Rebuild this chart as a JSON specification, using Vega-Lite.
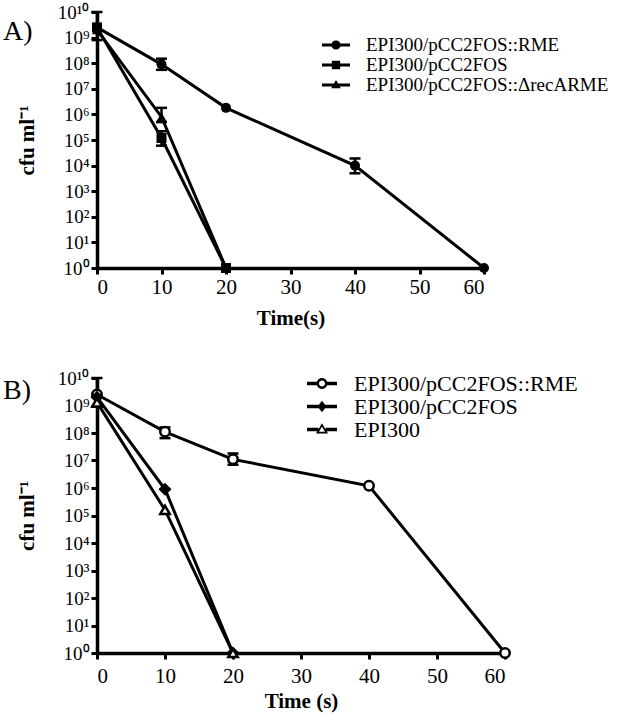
{
  "$schema": "https://vega.github.io/schema/vega-lite/v6.json",
  "background": "white",
  "padding": {"left": 3, "top": 3, "right": 5, "bottom": 5},
  "spacing": 41,
  "config": {
    "view": {"stroke": null},
    "font": "Liberation Serif",
    "axis": {
      "domainColor": "black", "domainWidth": 3.5, "tickColor": "black", "tickWidth": 3, "tickSize": 6,
      "labelColor": "black", "titleColor": "black", "labelFont": "Liberation Serif", "titleFont": "Liberation Serif",
      "grid": false, "titleFontWeight": "bold"
    }
  },
  "datasets": {
    "a": [
      {"strain": "EPI300/pCC2FOS::RME", "t": 0, "cfu": 2500000000, "lo": 800000000, "hi": 10000000000},
      {"strain": "EPI300/pCC2FOS::RME", "t": 10, "cfu": 90000000, "lo": 55000000, "hi": 150000000},
      {"strain": "EPI300/pCC2FOS::RME", "t": 20, "cfu": 1800000, "lo": null, "hi": null},
      {"strain": "EPI300/pCC2FOS::RME", "t": 40, "cfu": 10000, "lo": 5000, "hi": 19000},
      {"strain": "EPI300/pCC2FOS::RME", "t": 60, "cfu": 1, "lo": null, "hi": null},
      {"strain": "EPI300/pCC2FOS", "t": 0, "cfu": 2500000000, "lo": null, "hi": null},
      {"strain": "EPI300/pCC2FOS", "t": 10, "cfu": 120000, "lo": 60000, "hi": 220000},
      {"strain": "EPI300/pCC2FOS", "t": 20, "cfu": 1, "lo": null, "hi": null},
      {"strain": "EPI300/pCC2FOS::ΔrecARME", "t": 0, "cfu": 2000000000, "lo": null, "hi": null},
      {"strain": "EPI300/pCC2FOS::ΔrecARME", "t": 10, "cfu": 800000, "lo": 500000, "hi": 1800000},
      {"strain": "EPI300/pCC2FOS::ΔrecARME", "t": 20, "cfu": 1, "lo": null, "hi": null}
    ],
    "b": [
      {"strain": "EPI300/pCC2FOS::RME", "t": 0, "cfu": 2500000000, "lo": 900000000, "hi": 10000000000},
      {"strain": "EPI300/pCC2FOS::RME", "t": 10, "cfu": 110000000, "lo": 65000000, "hi": 160000000},
      {"strain": "EPI300/pCC2FOS::RME", "t": 20, "cfu": 11000000, "lo": 7000000, "hi": 18000000},
      {"strain": "EPI300/pCC2FOS::RME", "t": 40, "cfu": 1200000, "lo": null, "hi": null},
      {"strain": "EPI300/pCC2FOS::RME", "t": 60, "cfu": 1, "lo": null, "hi": null},
      {"strain": "EPI300/pCC2FOS", "t": 0, "cfu": 2000000000, "lo": null, "hi": null},
      {"strain": "EPI300/pCC2FOS", "t": 10, "cfu": 900000, "lo": null, "hi": null},
      {"strain": "EPI300/pCC2FOS", "t": 20, "cfu": 1, "lo": null, "hi": null},
      {"strain": "EPI300", "t": 0, "cfu": 1300000000, "lo": null, "hi": null},
      {"strain": "EPI300", "t": 10, "cfu": 160000, "lo": null, "hi": null},
      {"strain": "EPI300", "t": 20, "cfu": 1, "lo": null, "hi": null}
    ]
  },
  "vconcat": [
    {
      "data": {"name": "a"},
      "width": 387,
      "height": 256,
      "title": {"text": "A)", "anchor": "start", "frame": "group", "orient": "top", "offset": -43, "dx": -94, "fontSize": 28, "fontWeight": "normal", "font": "Liberation Serif", "color": "black"},
      "encoding": {
        "x": {"field": "t", "type": "quantitative", "scale": {"domain": [0, 60], "nice": false, "zero": false},
          "axis": {"values": [0, 10, 20, 30, 40, 50, 60], "title": "Time(s)", "labelFontSize": 21, "titleFontSize": 21, "labelPadding": 2, "titlePadding": 10}},
        "y": {"field": "cfu", "type": "quantitative", "scale": {"type": "log", "domain": [1, 10000000000], "nice": false},
          "axis": {"values": [1, 10, 100, 1000, 10000, 100000, 1000000, 10000000, 100000000, 1000000000, 10000000000],
            "labelExpr": "'10' + ['⁰','¹','²','³','⁴','⁵','⁶','⁷','⁸','⁹','¹⁰'][round(log(datum.value)/LN10)]",
            "title": "cfu ml⁻¹", "labelFontSize": 19, "titleFontSize": 21, "titlePadding": 20, "labelPadding": 2}}
      },
      "layer": [
        {"mark": {"type": "line", "color": "black", "strokeWidth": 3}, "encoding": {"detail": {"field": "strain"}}},
        {"transform": [{"filter": {"field": "lo", "valid": true}}], "mark": {"type": "rule", "color": "black", "strokeWidth": 2.5},
          "encoding": {"y": {"field": "lo", "type": "quantitative"}, "y2": {"field": "hi"}}},
        {"transform": [{"filter": {"field": "lo", "valid": true}}], "mark": {"type": "tick", "color": "black", "orient": "horizontal", "size": 11, "thickness": 2.5, "opacity": 1},
          "encoding": {"y": {"field": "lo", "type": "quantitative"}}},
        {"transform": [{"filter": {"field": "hi", "valid": true}}], "mark": {"type": "tick", "color": "black", "orient": "horizontal", "size": 11, "thickness": 2.5, "opacity": 1},
          "encoding": {"y": {"field": "hi", "type": "quantitative"}}},
        {"mark": {"type": "point", "filled": true, "color": "black", "size": 100, "opacity": 1},
          "encoding": {"shape": {"field": "strain", "type": "nominal",
            "scale": {"domain": ["EPI300/pCC2FOS::RME", "EPI300/pCC2FOS", "EPI300/pCC2FOS::ΔrecARME"], "range": ["circle", "square", "triangle-up"]}, "legend": null}}},
        {"transform": [{"filter": "datum.t < 0"}], "mark": {"type": "point", "filled": true, "color": "black", "opacity": 1},
          "encoding": {"shape": {"field": "strain", "type": "nominal",
            "scale": {"domain": ["EPI300/pCC2FOS::RME", "EPI300/pCC2FOS", "EPI300/pCC2FOS::ΔrecARME"],
              "range": [
                "M-1,-0.11H1V0.11H-1Z M-0.33,0A0.33,0.33 0 1,1 0.33,0A0.33,0.33 0 1,1 -0.33,0Z",
                "M-1,-0.11H1V0.11H-1Z M-0.3,-0.3H0.3V0.3H-0.3Z",
                "M-1,-0.11H1V0.11H-1Z M0,-0.36L0.34,0.24H-0.34Z"
              ]},
            "legend": {"orient": "none", "legendX": 225, "legendY": 23, "title": null, "labelFontSize": 19, "labelFont": "Liberation Serif", "labelColor": "black", "labelLimit": 500,
              "symbolSize": 784, "symbolFillColor": "black", "symbolStrokeWidth": 0, "labelOffset": 16, "rowPadding": 0, "clipHeight": 20, "padding": 0}}}}
      ],
      "resolve": {"scale": {"shape": "independent"}, "legend": {"shape": "independent"}}
    },
    {
      "data": {"name": "b"},
      "width": 408,
      "height": 275,
      "title": {"text": "B)", "anchor": "start", "frame": "group", "orient": "top", "offset": -36, "dx": -94, "fontSize": 28, "fontWeight": "normal", "font": "Liberation Serif", "color": "black"},
      "encoding": {
        "x": {"field": "t", "type": "quantitative", "scale": {"domain": [0, 60], "nice": false, "zero": false},
          "axis": {"values": [0, 10, 20, 30, 40, 50, 60], "title": "Time (s)", "labelFontSize": 21, "titleFontSize": 21, "labelPadding": 6, "titlePadding": 4}},
        "y": {"field": "cfu", "type": "quantitative", "scale": {"type": "log", "domain": [1, 10000000000], "nice": false},
          "axis": {"values": [1, 10, 100, 1000, 10000, 100000, 1000000, 10000000, 100000000, 1000000000, 10000000000],
            "labelExpr": "'10' + ['⁰','¹','²','³','⁴','⁵','⁶','⁷','⁸','⁹','¹⁰'][round(log(datum.value)/LN10)]",
            "title": "cfu ml⁻¹", "labelFontSize": 19, "titleFontSize": 21, "titlePadding": 20, "labelPadding": 2}}
      },
      "layer": [
        {"mark": {"type": "line", "color": "black", "strokeWidth": 3}, "encoding": {"detail": {"field": "strain"}}},
        {"transform": [{"filter": {"field": "lo", "valid": true}}], "mark": {"type": "rule", "color": "black", "strokeWidth": 2.5},
          "encoding": {"y": {"field": "lo", "type": "quantitative"}, "y2": {"field": "hi"}}},
        {"transform": [{"filter": {"field": "lo", "valid": true}}], "mark": {"type": "tick", "color": "black", "orient": "horizontal", "size": 11, "thickness": 2.5, "opacity": 1},
          "encoding": {"y": {"field": "lo", "type": "quantitative"}}},
        {"transform": [{"filter": {"field": "hi", "valid": true}}], "mark": {"type": "tick", "color": "black", "orient": "horizontal", "size": 11, "thickness": 2.5, "opacity": 1},
          "encoding": {"y": {"field": "hi", "type": "quantitative"}}},
        {"mark": {"type": "point", "filled": true, "stroke": "black", "strokeWidth": 2.5, "size": 90, "opacity": 1},
          "encoding": {
            "shape": {"field": "strain", "type": "nominal",
              "scale": {"domain": ["EPI300/pCC2FOS::RME", "EPI300/pCC2FOS", "EPI300"], "range": ["circle", "diamond", "triangle-up"]}, "legend": null},
            "fill": {"field": "strain", "type": "nominal",
              "scale": {"domain": ["EPI300/pCC2FOS::RME", "EPI300/pCC2FOS", "EPI300"], "range": ["white", "black", "white"]}, "legend": null}}},
        {"transform": [{"filter": "datum.t < 0"}], "mark": {"type": "point", "filled": true, "color": "black", "opacity": 1},
          "encoding": {"shape": {"field": "strain", "type": "nominal",
            "scale": {"domain": ["EPI300/pCC2FOS::RME", "EPI300/pCC2FOS", "EPI300"],
              "range": [
                "M-1,-0.11H-0.3V0.11H-1Z M0.3,-0.11H1V0.11H0.3Z M-0.36,0A0.36,0.36 0 1,1 0.36,0A0.36,0.36 0 1,1 -0.36,0Z M-0.2,0A0.2,0.2 0 1,0 0.2,0A0.2,0.2 0 1,0 -0.2,0Z",
                "M-1,-0.11H1V0.11H-1Z M0,-0.38L0.3,0L0,0.38L-0.3,0Z",
                "M-1,-0.11H-0.24V0.11H-1Z M0.24,-0.11H1V0.11H0.24Z M0,-0.42L0.4,0.27H-0.4Z M0,-0.18L-0.2,0.15H0.2Z"
              ]},
            "legend": {"orient": "none", "legendX": 210, "legendY": -5, "title": null, "labelFontSize": 22, "labelFont": "Liberation Serif", "labelColor": "black", "labelLimit": 500,
              "symbolSize": 900, "symbolFillColor": "black", "symbolStrokeWidth": 0, "labelOffset": 17, "rowPadding": 0, "clipHeight": 21, "padding": 0}}}}
      ],
      "resolve": {"scale": {"shape": "independent", "fill": "independent"}, "legend": {"shape": "independent"}}
    }
  ],
  "resolve": {"scale": {"x": "independent", "y": "independent", "shape": "independent", "fill": "independent"}, "legend": {"shape": "independent", "fill": "independent"}}
}
